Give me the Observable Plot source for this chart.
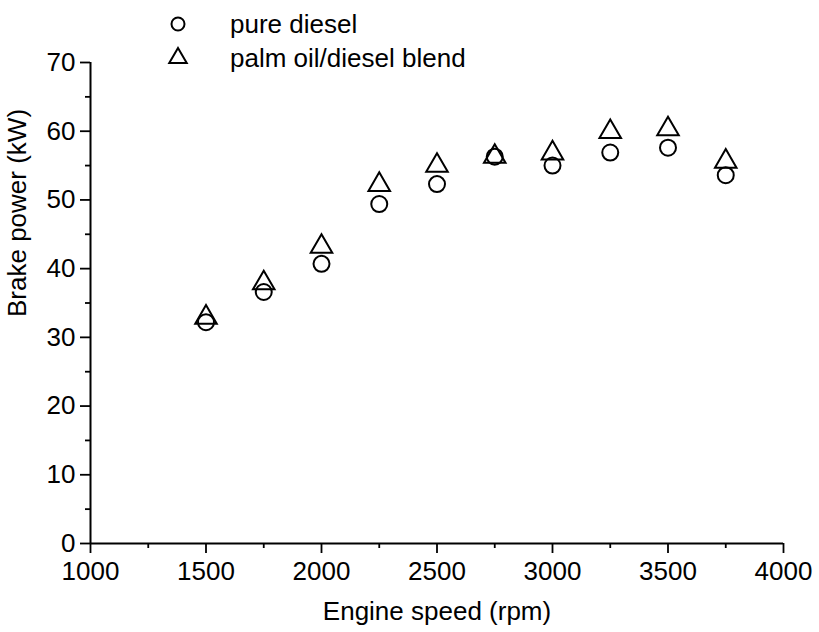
<!DOCTYPE html>
<html>
<head>
<meta charset="utf-8">
<script src="https://cdn.jsdelivr.net/npm/d3@7"></script>
<script src="https://cdn.jsdelivr.net/npm/@observablehq/plot@0.6"></script>
<style>
  html, body { margin: 0; padding: 0; background: #fff; }
  #wrap { position: relative; width: 819px; height: 632px; font-family: "Liberation Sans", Arial, Helvetica, sans-serif; }
  #legend { position: absolute; left: 164px; top: 7px; font-size: 26px; color: #000; }
  .row { display: flex; align-items: center; height: 34px; }
  .row svg { width: 28px; height: 28px; margin-right: 38px; }
</style>
</head>
<body>
<div id="wrap">
  <div id="chart"></div>
  <div id="legend"></div>
</div>
<script>
// Data
const speed = [1500, 1750, 2000, 2250, 2500, 2750, 3000, 3250, 3500, 3750];
const pureDiesel = [32.2, 36.6, 40.7, 49.4, 52.3, 56.3, 55.0, 56.9, 57.6, 53.6];
const palmBlend  = [32.9, 37.9, 43.2, 52.2, 55.0, 56.3, 56.8, 59.9, 60.3, 55.6];
const seriesNames = ["pure diesel", "palm oil/diesel blend"];
const seriesSymbols = ["circle", "triangle"];

const xTicks = [1000, 1500, 2000, 2500, 3000, 3500, 4000];
const xMinorTicks = [1250, 1750, 2250, 2750, 3250, 3750];
const yTicks = [0, 10, 20, 30, 40, 50, 60, 70];
const yMinorTicks = [5, 15, 25, 35, 45, 55, 65];
const xLabel = "Engine speed (rpm)";
const yLabel = "Brake power (kW)";

const rows = [];
speed.forEach((s, i) => rows.push({speed: s, power: pureDiesel[i], series: seriesNames[0]}));
speed.forEach((s, i) => rows.push({speed: s, power: palmBlend[i], series: seriesNames[1]}));

const font = "Liberation Sans, Arial, Helvetica, sans-serif";

const plot = Plot.plot({
  width: 819,
  height: 632,
  marginLeft: 90,
  marginRight: 36,
  marginTop: 62,
  marginBottom: 89,
  style: {fontFamily: font, background: "#fff", color: "#000"},
  x: {domain: [1000, 4000]},
  y: {domain: [0, 70]},
  symbol: {domain: seriesNames, range: seriesSymbols},
  marks: [
    Plot.axisX({ticks: xTicks, tickFormat: "d", tickSize: 10, tickPadding: 8, fontSize: 26, label: null, strokeWidth: 1.8}),
    Plot.axisX({ticks: xMinorTicks, tickSize: 5, text: null, label: null, strokeWidth: 1.8}),
    Plot.axisY({ticks: yTicks, tickFormat: "d", tickSize: 10, tickPadding: 5, fontSize: 26, label: null, strokeWidth: 1.8}),
    Plot.axisY({ticks: yMinorTicks, tickSize: 5, text: null, label: null, strokeWidth: 1.8}),
    Plot.ruleY([0], {stroke: "#000", strokeWidth: 2}),
    Plot.ruleX([1000], {stroke: "#000", strokeWidth: 2}),
    Plot.dot(rows, {
      x: "speed", y: "power", symbol: "series",
      r: 8, stroke: "#000", strokeWidth: 2, fill: "none"
    }),
    Plot.text([xLabel], {frameAnchor: "bottom", dy: 76, fontSize: 26, fill: "#000"}),
    Plot.text([yLabel], {frameAnchor: "left", dx: -73, dy: 14, rotate: -90, fontSize: 26, fill: "#000"})
  ]
});
document.getElementById("chart").appendChild(plot);

// Legend
const legend = document.getElementById("legend");
seriesNames.forEach((name, i) => {
  const row = document.createElement("div");
  row.className = "row";
  const sym = d3.symbol(seriesSymbols[i] === "circle" ? d3.symbolCircle : d3.symbolTriangle, Math.PI * 6.5 * 6.5)();
  row.innerHTML = `<svg viewBox="-14 -14 28 28"><path d="${sym}" fill="none" stroke="#000" stroke-width="2"/></svg><span>${name}</span>`;
  legend.appendChild(row);
});
</script>
</body>
</html>
